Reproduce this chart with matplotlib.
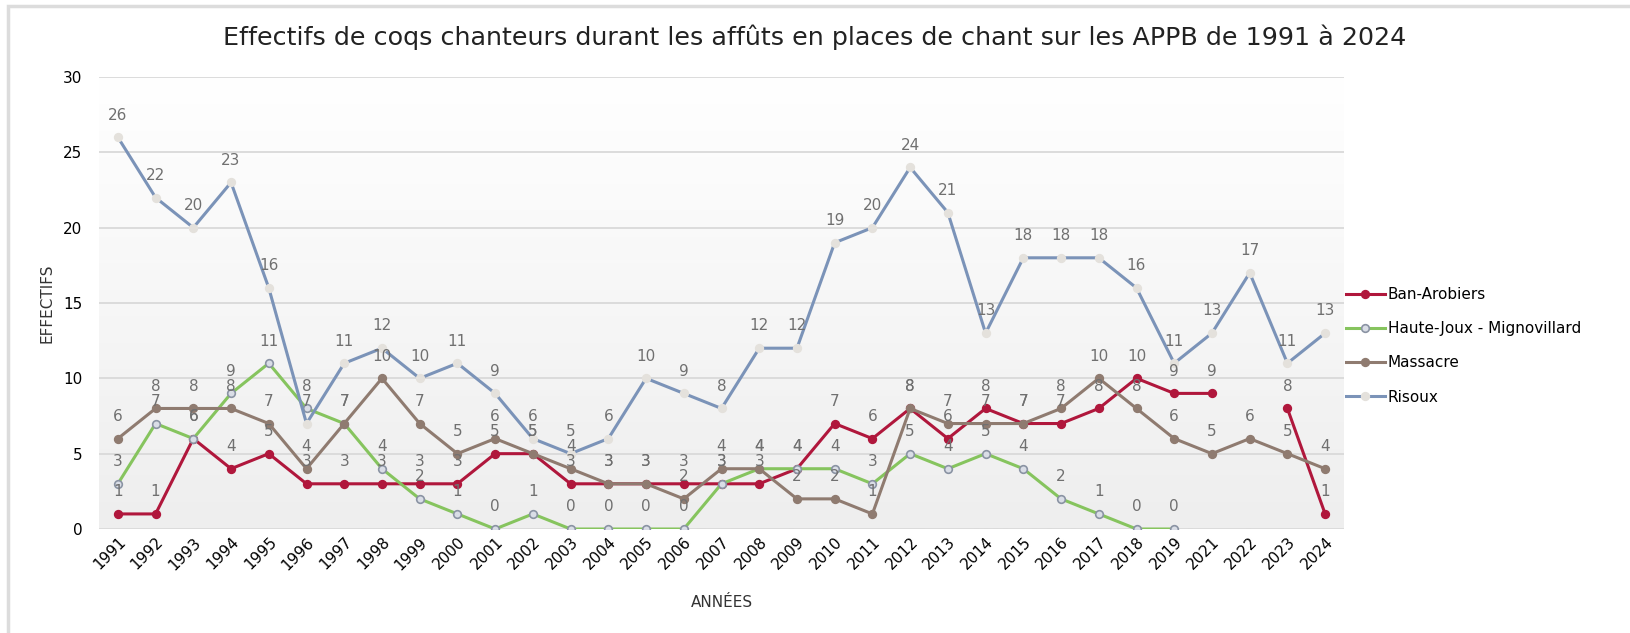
import numpy as np
import matplotlib
matplotlib.use("Agg")
import matplotlib.pyplot as plt
from matplotlib.patches import Rectangle

# années (pas de 2020)
years = [str(y) for y in range(1991, 2020)] + ["2021", "2022", "2023", "2024"]

nan = np.nan
ban_arobiers = [1, 1, 6, 4, 5, 3, 3, 3, 3, 3, 5, 5, 3, 3, 3, 3, 3, 3, 4, 7,
                6, 8, 6, 8, 7, 7, 8, 10, 9, 9, nan, 8, 1]
haute_joux = [3, 7, 6, 9, 11, 8, 7, 4, 2, 1, 0, 1, 0, 0, 0, 0, 3, 4, 4, 4,
              3, 5, 4, 5, 4, 2, 1, 0, 0, nan, nan, nan, nan]
massacre = [6, 8, 8, 8, 7, 4, 7, 10, 7, 5, 6, 5, 4, 3, 3, 2, 4, 4, 2, 2,
            1, 8, 7, 7, 7, 8, 10, 8, 6, 5, 6, 5, 4]
risoux = [26, 22, 20, 23, 16, 7, 11, 12, 10, 11, 9, 6, 5, 6, 10, 9, 8, 12, 12, 19,
          20, 24, 21, 13, 18, 18, 18, 16, 11, 13, 17, 11, 13]

series = [
    ("Ban-Arobiers", ban_arobiers, "#b0173c", "#b0173c", "#b0173c"),
    ("Haute-Joux - Mignovillard", haute_joux, "#86c45e", "#d9dde6", "#8a93a3"),
    ("Massacre", massacre, "#8f7b70", "#8f7b70", "#8f7b70"),
    ("Risoux", risoux, "#7b93b8", "#e4e1dc", "#e4e1dc"),
]

fig = plt.figure(figsize=(16.3, 6.33), dpi=100)
ax = fig.add_axes([99 / 1630, 1 - 529 / 633, (1344 - 99) / 1630, (529 - 77) / 633])

# cadre gris autour de la figure
fig.patches.append(Rectangle((8 / 1630, -0.02), 1.1, 1.0 - 6 / 633 + 0.02,
                             transform=fig.transFigure, fill=False,
                             edgecolor="#dcdcdc", lw=2.5, zorder=0))

x = np.arange(len(years))

# fond dégradé blanc (haut) -> gris (bas)
grad = np.linspace(0.0, 1.0, 256).reshape(-1, 1)
ax.imshow(grad, extent=(-0.5, len(years) - 0.5, 0, 30), aspect="auto",
          cmap=matplotlib.colors.LinearSegmentedColormap.from_list("g", ["#ffffff", "#eeeeee"]),
          vmin=0, vmax=1, origin="upper", zorder=0)

for name, vals, col, mfc, mec in series:
    v = np.array(vals, dtype=float)
    ax.plot(x, v, color=col, lw=2.2, marker="o", ms=5.5, mfc=mfc, mec=mec,
            mew=1.2, label=name, zorder=3)
    for xi, vi in zip(x, v):
        if not np.isnan(vi):
            ax.annotate(f"{int(vi)}", (xi, vi), xytext=(0, 16), textcoords="offset points",
                        ha="center", va="center", fontsize=11, color="#707070", zorder=4)

ax.set_xlim(-0.5, len(years) - 0.5)
ax.set_ylim(0, 30)
ax.set_yticks(range(0, 31, 5))
ax.set_xticks(x)
ax.set_xticklabels(years, rotation=45, ha="right", rotation_mode="anchor", fontsize=11)
ax.tick_params(axis="y", labelsize=11, length=0, pad=12)
ax.tick_params(axis="x", length=0, pad=4)
ax.grid(axis="y", color="#d9d9d9", lw=1.3, zorder=1)
ax.set_axisbelow(True)
for s in ax.spines.values():
    s.set_visible(False)

ax.set_xlabel("ANNÉES", fontsize=11, color="#333333", labelpad=16)
ax.set_ylabel("EFFECTIFS", fontsize=11, color="#333333", labelpad=6)

fig.text(0.5, 1 - 37 / 633, "Effectifs de coqs chanteurs durant les affûts en places de chant sur les APPB de 1991 à 2024",
         ha="center", va="center", fontsize=18.3, color="#222222")

leg = ax.legend(loc="center left", bbox_to_anchor=(1.0, 0.405), frameon=False,
                fontsize=11, handlelength=2.6, handletextpad=0.15, labelspacing=1.25,
                borderaxespad=0.0, borderpad=0.1)

fig.savefig("out.png", dpi=100)
